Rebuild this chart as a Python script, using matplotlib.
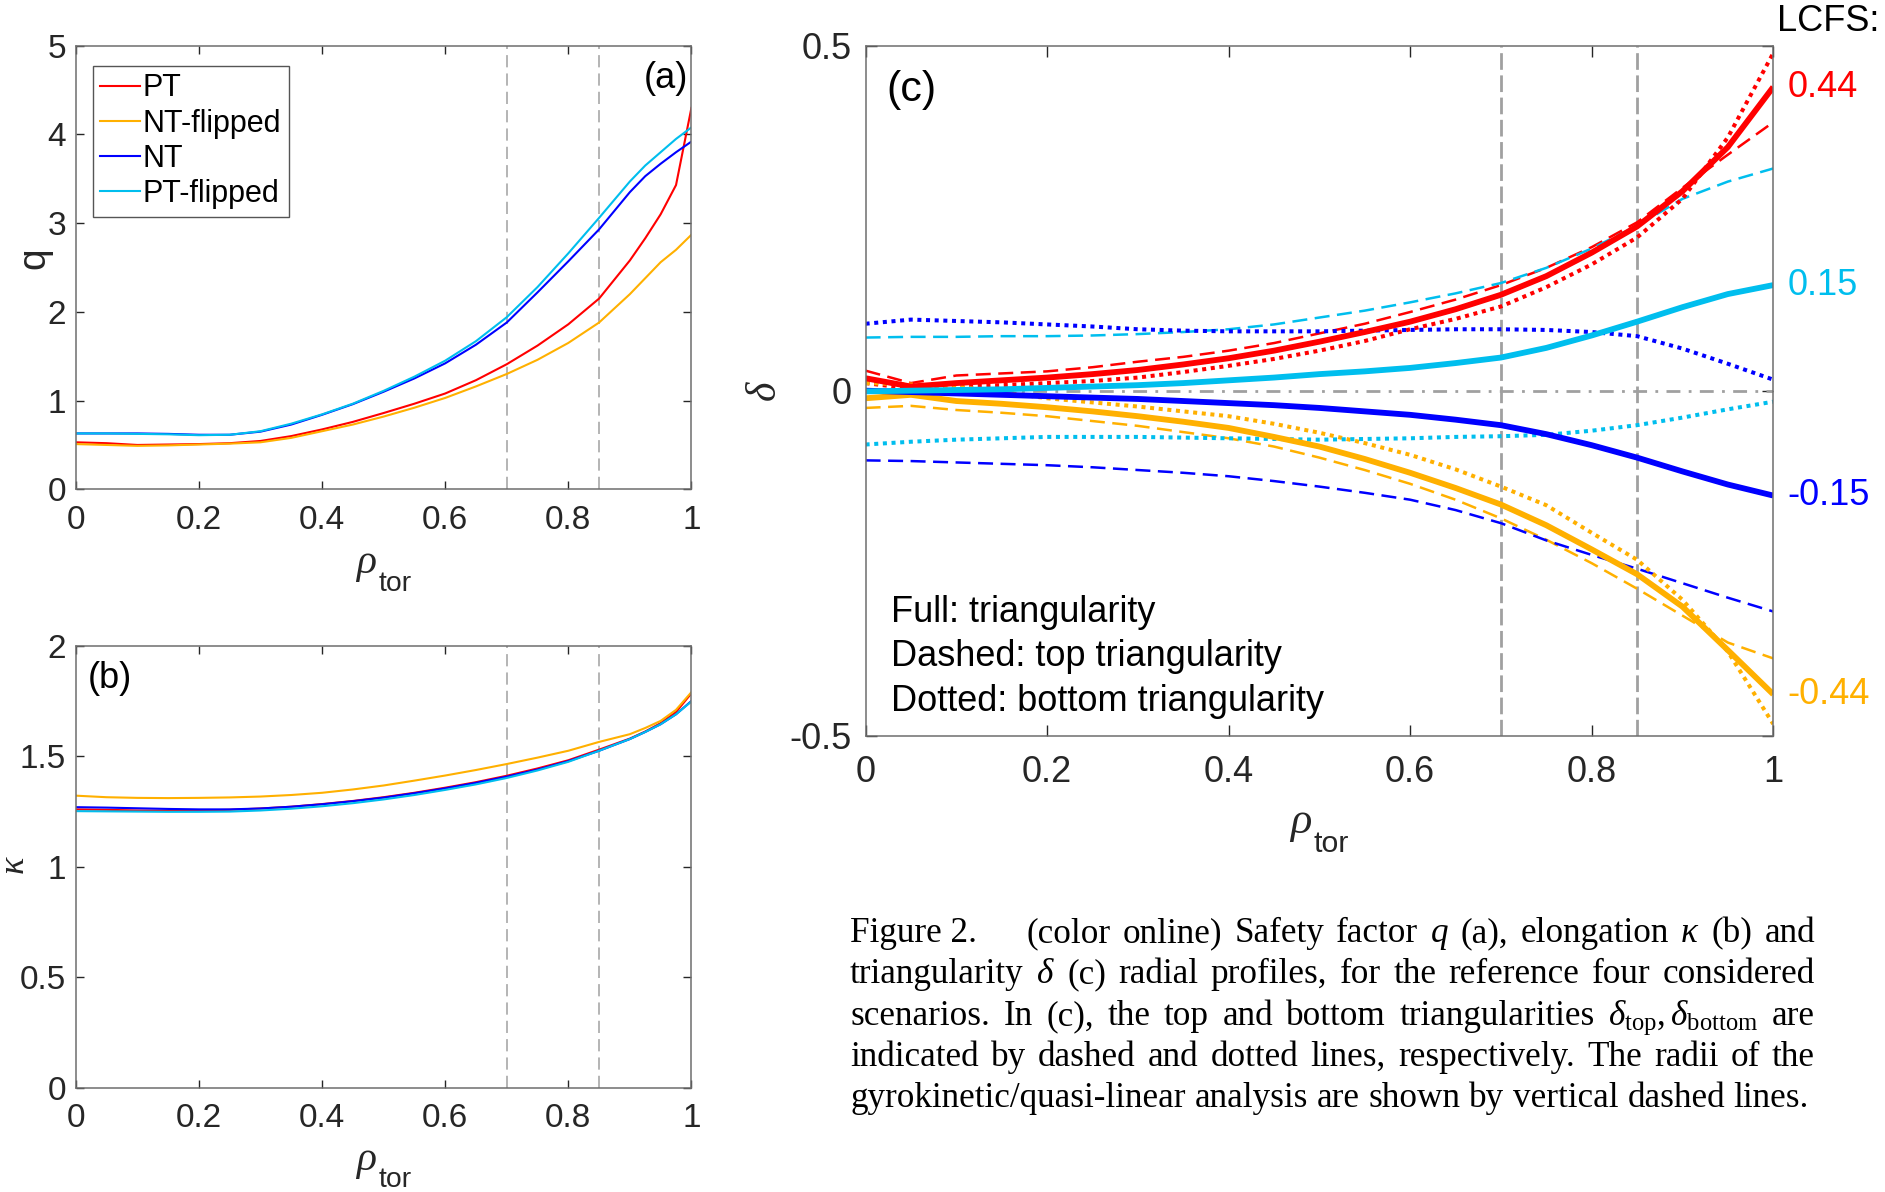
import numpy as np
import matplotlib.pyplot as plt

plt.rcParams['font.family'] = ['Liberation Sans', 'DejaVu Sans']
plt.rcParams['mathtext.fontset'] = 'custom'
plt.rcParams['mathtext.rm'] = 'Liberation Serif'
plt.rcParams['mathtext.it'] = 'Liberation Serif:italic'
plt.rcParams['mathtext.bf'] = 'Liberation Serif:bold'
plt.rcParams['mathtext.sf'] = 'Liberation Sans'

# scenarios and their colours
scenarios = ['PT', 'NT-flipped', 'NT', 'PT-flipped']
colors = ['#FF0000', '#FFB000', '#0000FF', '#00BEEE']

# radii of the gyrokinetic / quasi-linear analysis
radii = [0.7, 0.85]

# (a) safety factor q and (b) elongation kappa
rho_q = [0, 0.05, 0.1, 0.15, 0.2, 0.25, 0.3, 0.35, 0.4, 0.45, 0.5, 0.55,
         0.6, 0.65, 0.7, 0.75, 0.8, 0.85, 0.9, 0.925, 0.95, 0.975, 1.0]
q_pt = [0.53, 0.52, 0.50, 0.505, 0.51, 0.52, 0.545, 0.60, 0.675, 0.76, 0.86,
        0.965, 1.08, 1.23, 1.41, 1.62, 1.86, 2.15, 2.58, 2.83, 3.1, 3.43, 4.3]
q_ntf = [0.51, 0.50, 0.49, 0.495, 0.505, 0.515, 0.53, 0.58, 0.655, 0.73, 0.82,
         0.92, 1.03, 1.16, 1.30, 1.46, 1.65, 1.88, 2.2, 2.38, 2.56, 2.70, 2.87]
q_nt = [0.63, 0.63, 0.63, 0.625, 0.615, 0.615, 0.65, 0.73, 0.84, 0.96, 1.10,
        1.25, 1.42, 1.63, 1.88, 2.22, 2.57, 2.93, 3.35, 3.53, 3.67, 3.80, 3.92]
q_ptf = [0.63, 0.63, 0.625, 0.62, 0.61, 0.615, 0.655, 0.74, 0.845, 0.965, 1.11,
         1.27, 1.45, 1.67, 1.94, 2.28, 2.66, 3.06, 3.47, 3.65, 3.8, 3.95, 4.08]

kappa_pt = [1.26, 1.258, 1.255, 1.254, 1.255, 1.258, 1.264, 1.272, 1.284, 1.298,
            1.315, 1.335, 1.358, 1.383, 1.412, 1.445, 1.482, 1.53, 1.58, 1.612,
            1.65, 1.70, 1.785]
kappa_ntf = [1.322, 1.315, 1.312, 1.311, 1.312, 1.314, 1.318, 1.325, 1.335,
             1.35, 1.368, 1.39, 1.413, 1.438, 1.465, 1.494, 1.525, 1.565, 1.60,
             1.628, 1.66, 1.71, 1.79]
kappa_nt = [1.27, 1.268, 1.265, 1.262, 1.26, 1.26, 1.264, 1.272, 1.283, 1.297,
            1.313, 1.333, 1.355, 1.38, 1.408, 1.44, 1.478, 1.525, 1.578, 1.61,
            1.645, 1.69, 1.75]
kappa_ptf = [1.252, 1.251, 1.25, 1.249, 1.249, 1.25, 1.255, 1.263, 1.274, 1.288,
             1.305, 1.325, 1.348, 1.373, 1.402, 1.436, 1.475, 1.525, 1.578, 1.61,
             1.645, 1.69, 1.748]

# (c) triangularity: mean, top and bottom
rho_d = [0, 0.05, 0.1, 0.15, 0.2, 0.25, 0.3, 0.35, 0.4, 0.45, 0.5, 0.55, 0.6,
         0.65, 0.7, 0.75, 0.8, 0.85, 0.9, 0.95, 1.0]
delta_pt = [0.018, 0.006, 0.011, 0.015, 0.019, 0.024, 0.030, 0.038, 0.047, 0.058,
            0.071, 0.085, 0.100, 0.118, 0.139, 0.166, 0.200, 0.238, 0.289, 0.353,
            0.44]
delta_top_pt = [0.029, 0.011, 0.022, 0.025, 0.028, 0.034, 0.042, 0.049, 0.058,
                0.069, 0.083, 0.097, 0.114, 0.132, 0.153, 0.178, 0.208, 0.244,
                0.294, 0.342, 0.389]
delta_bot_pt = [0.011, 0.003, 0.006, 0.008, 0.011, 0.014, 0.019, 0.027, 0.036,
                0.046, 0.058, 0.072, 0.089, 0.104, 0.122, 0.150, 0.183, 0.222,
                0.278, 0.367, 0.489]

delta_ntf = [-0.011, -0.006, -0.015, -0.019, -0.024, -0.030, -0.037, -0.045,
             -0.054, -0.067, -0.081, -0.099, -0.119, -0.141, -0.165, -0.195,
             -0.230, -0.266, -0.313, -0.376, -0.44]
delta_top_ntf = [-0.025, -0.022, -0.028, -0.032, -0.037, -0.044, -0.051, -0.060,
                 -0.069, -0.081, -0.097, -0.115, -0.135, -0.158, -0.185, -0.216,
                 -0.250, -0.287, -0.326, -0.365, -0.388]
delta_bot_ntf = [0.011, 0.009, 0.006, -0.002, -0.011, -0.017, -0.023, -0.030,
                 -0.037, -0.048, -0.061, -0.076, -0.093, -0.114, -0.139, -0.166,
                 -0.206, -0.245, -0.303, -0.378, -0.483]

delta_nt = [0.000, -0.002, -0.004, -0.006, -0.008, -0.010, -0.012, -0.015, -0.018,
            -0.021, -0.025, -0.030, -0.035, -0.042, -0.050, -0.063, -0.079,
            -0.097, -0.117, -0.136, -0.152]
delta_top_nt = [-0.101, -0.102, -0.104, -0.106, -0.108, -0.111, -0.115, -0.119,
                -0.124, -0.131, -0.139, -0.148, -0.158, -0.173, -0.192, -0.217,
                -0.238, -0.258, -0.279, -0.300, -0.320]
delta_bot_nt = [0.097, 0.103, 0.101, 0.099, 0.096, 0.093, 0.089, 0.087, 0.086,
                0.086, 0.086, 0.087, 0.088, 0.089, 0.089, 0.088, 0.085, 0.079,
                0.061, 0.039, 0.016]

delta_ptf = [-0.001, 0.000, 0.001, 0.002, 0.004, 0.006, 0.008, 0.011, 0.015,
             0.019, 0.024, 0.028, 0.033, 0.040, 0.048, 0.062, 0.080, 0.100,
             0.121, 0.140, 0.153]
delta_top_ptf = [0.077, 0.078, 0.078, 0.079, 0.079, 0.080, 0.082, 0.085, 0.089,
                 0.096, 0.106, 0.116, 0.128, 0.141, 0.156, 0.178, 0.206, 0.239,
                 0.278, 0.303, 0.322]
delta_bot_ptf = [-0.078, -0.074, -0.071, -0.069, -0.067, -0.067, -0.067, -0.068,
                 -0.069, -0.070, -0.071, -0.070, -0.069, -0.067, -0.066, -0.064,
                 -0.058, -0.050, -0.039, -0.027, -0.016]

q_all = [q_pt, q_ntf, q_nt, q_ptf]
kappa_all = [kappa_pt, kappa_ntf, kappa_nt, kappa_ptf]
delta_all = [delta_pt, delta_ntf, delta_nt, delta_ptf]
delta_top_all = [delta_top_pt, delta_top_ntf, delta_top_nt, delta_top_ptf]
delta_bot_all = [delta_bot_pt, delta_bot_ntf, delta_bot_nt, delta_bot_ptf]

x_ticks = [0, 0.2, 0.4, 0.6, 0.8, 1]
x_ticklabels = ['0', '0.2', '0.4', '0.6', '0.8', '1']
q_ticks = [0, 1, 2, 3, 4, 5]
kappa_ticks = [0, 0.5, 1, 1.5, 2]
kappa_ticklabels = ['0', '0.5', '1', '1.5', '2']
delta_ticks = [-0.5, 0, 0.5]
delta_ticklabels = ['-0.5', '0', '0.5']

caption = [
    ['Figure 2.', '(color', 'online)', 'Safety', 'factor', '$q$', '(a),',
     'elongation', r'$\kappa$', '(b)', 'and'],
    ['triangularity', r'$\delta$', '(c)', 'radial', 'profiles,', 'for', 'the',
     'reference', 'four', 'considered'],
    ['scenarios.', 'In', '(c),', 'the', 'top', 'and', 'bottom', 'triangularities',
     r'$\delta_{\mathrm{top}},\delta_{\mathrm{bottom}}$', 'are'],
    ['indicated', 'by', 'dashed', 'and', 'dotted', 'lines,', 'respectively.',
     'The', 'radii', 'of', 'the'],
    ['gyrokinetic/quasi-linear', 'analysis', 'are', 'shown', 'by', 'vertical',
     'dashed', 'lines.'],
]

GRAY = '#A0A0A0'
INK = '#262626'


def style_axes(ax, size, length, xpad, ypad):
    ax.tick_params(direction='in', top=True, right=True, length=length,
                   width=1.0, color=INK, labelsize=size, labelcolor=INK)
    ax.tick_params(axis='x', pad=xpad)
    ax.tick_params(axis='y', pad=ypad)
    for s in ax.spines.values():
        s.set_color('#6e6e6e')
        s.set_linewidth(1.1)


def rho_label(ax, x, y_rho, y_sub, size):
    # rho with a low-set "tor" subscript
    ax.text(x, y_rho, r'$\rho$', transform=ax.transAxes, ha='right',
            va='baseline', fontsize=size, color=INK)
    ax.text(x + 0.002, y_sub, 'tor', transform=ax.transAxes, ha='left',
            va='baseline', fontsize=size * 0.68, color=INK)


def justified_caption(fig, lines, left, right, baselines, size, first_gap):
    renderer = fig.canvas.get_renderer()
    W, H = fig.bbox.width, fig.bbox.height
    for k, (words, yb) in enumerate(zip(lines, baselines)):
        texts = [fig.text(0, 1 - yb / H, w, fontsize=size,
                          family='Liberation Serif', va='baseline', ha='left')
                 for w in words]
        widths = [t.get_window_extent(renderer).width for t in texts]
        if k == 0:
            g = (right - left - first_gap - sum(widths)) / (len(words) - 2)
            gaps = [first_gap] + [g] * (len(words) - 2)
        elif k < len(lines) - 1:
            g = (right - left - sum(widths)) / (len(words) - 1)
            gaps = [g] * (len(words) - 1)
        else:
            gaps = [0.25 * size * fig.dpi / 72] * (len(words) - 1)
        x = left
        for t, w, g in zip(texts, widths, gaps + [0]):
            t.set_x(x / W)
            x += w + g


fig = plt.figure(figsize=(18.85, 11.92), dpi=100)
ax_a = fig.add_axes([0.0402, 0.5895, 0.3266, 0.3721])
ax_b = fig.add_axes([0.0402, 0.0872, 0.3266, 0.3711])
ax_c = fig.add_axes([0.4592, 0.3828, 0.4815, 0.5789])

# (a) q profiles
for r in radii:
    ax_a.axvline(r, color=GRAY, lw=1.1, dashes=(8, 4))
for name, c, q in zip(scenarios, colors, q_all):
    ax_a.plot(rho_q, q, color=c, lw=1.5, label=name)
ax_a.set_xlim(0, 1)
ax_a.set_ylim(0, 5)
ax_a.set_xticks(x_ticks, x_ticklabels)
ax_a.set_yticks(q_ticks, [str(t) for t in q_ticks])
style_axes(ax_a, 24, 6, 11, 7)
leg = ax_a.legend(loc='upper left', bbox_to_anchor=(0.0275, 0.955),
                  borderaxespad=0, fontsize=22, handlelength=1.3,
                  handletextpad=0.08, labelspacing=0.17, borderpad=0.25,
                  fancybox=False, framealpha=1)
leg.get_frame().set_edgecolor('#555555')
leg.get_frame().set_linewidth(1.0)
ax_a.text(0.995, 0.927, '(a)', transform=ax_a.transAxes, ha='right',
          va='center', fontsize=26)
ax_a.text(-0.068, 0.52, 'q', transform=ax_a.transAxes, rotation=90,
          ha='center', va='center', fontsize=28, color=INK)
rho_label(ax_a, 0.4895, -0.189, -0.229, 30)

# (b) elongation profiles
for r in radii:
    ax_b.axvline(r, color=GRAY, lw=1.1, dashes=(8, 4))
for c, k in zip(colors, kappa_all):
    ax_b.plot(rho_q, k, color=c, lw=1.5)
ax_b.set_xlim(0, 1)
ax_b.set_ylim(0, 2)
ax_b.set_xticks(x_ticks, x_ticklabels)
ax_b.set_yticks(kappa_ticks, kappa_ticklabels)
style_axes(ax_b, 24, 6, 11, 7)
ax_b.text(0.02, 0.925, '(b)', transform=ax_b.transAxes, ha='left',
          va='center', fontsize=26)
ax_b.text(-0.1, 0.503, r'$\kappa$', transform=ax_b.transAxes, rotation=90,
          ha='center', va='center', fontsize=26, color=INK)
rho_label(ax_b, 0.4895, -0.185, -0.224, 30)

# (c) triangularity profiles
for r in radii:
    ax_c.axvline(r, color=GRAY, lw=2.0, dashes=(6, 2))
ax_c.axhline(0, color=GRAY, lw=2.0, dashes=(5, 3, 1, 3))
for c, top in zip(colors, delta_top_all):
    ax_c.plot(rho_d, top, color=c, lw=1.8, dashes=(6, 3))
for c, bot in zip(colors, delta_bot_all):
    ax_c.plot(rho_d, bot, color=c, lw=2.9, dashes=(1, 1.15))
for c, d in zip(colors, delta_all):
    ax_c.plot(rho_d, d, color=c, lw=4.2, solid_capstyle='butt')
ax_c.set_xlim(0, 1)
ax_c.set_ylim(-0.5, 0.5)
ax_c.set_xticks(x_ticks, x_ticklabels)
ax_c.set_yticks(delta_ticks, delta_ticklabels)
style_axes(ax_c, 26, 8, 14, 10)

# values at the last closed flux surface
edge = ax_c.get_yaxis_transform()
for c, d in zip(colors, delta_all):
    ax_c.text(1.016, d[-1], f'{d[-1]:.2f}', transform=edge, color=c,
              fontsize=26, ha='left', va='center', clip_on=False)
ax_c.text(1.004, 0.535, 'LCFS:', transform=edge, fontsize=26, ha='left',
          va='center', clip_on=False)
ax_c.text(0.0225, 0.936, '(c)', transform=ax_c.transAxes, ha='left',
          va='center', fontsize=31)
for y, s in zip([0.179, 0.115, 0.050],
                ['Full: triangularity', 'Dashed: top triangularity',
                 'Dotted: bottom triangularity']):
    ax_c.text(0.0277, y, s, transform=ax_c.transAxes, ha='left', va='center',
              fontsize=26)
ax_c.text(-0.111, 0.5, r'$\delta$', transform=ax_c.transAxes, rotation=90,
          ha='center', va='center', fontsize=30, color=INK)
rho_label(ax_c, 0.4915, -0.141, -0.1686, 32)

justified_caption(fig, caption, 850, 1815, [942, 983, 1025, 1066, 1107],
                  25.3, 50)

fig.savefig('out.png', dpi=100)
